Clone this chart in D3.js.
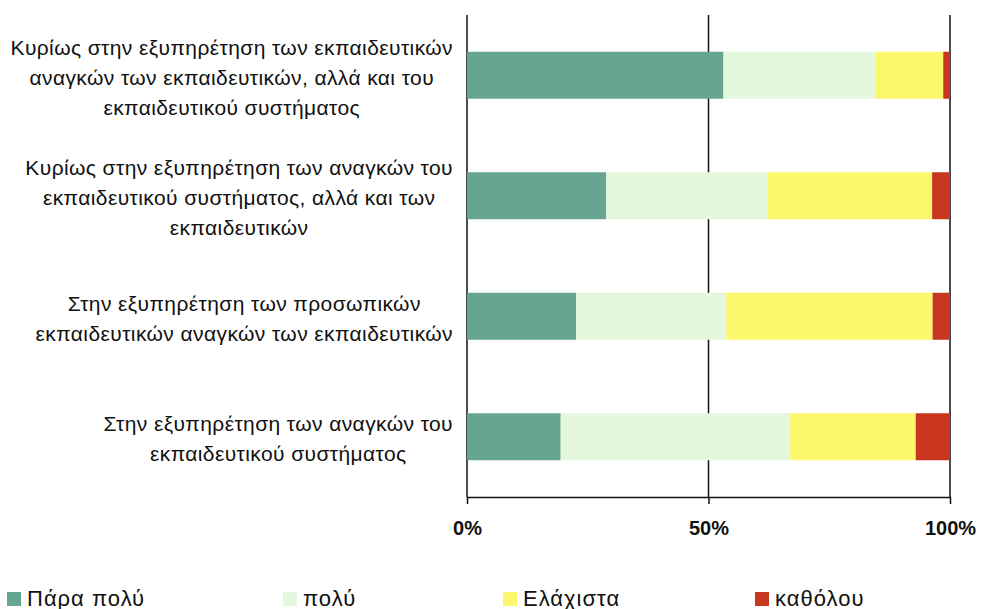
<!DOCTYPE html>
<html>
<head>
<meta charset="utf-8">
<script src="https://cdn.jsdelivr.net/npm/d3@7"></script>
<style>
  body { margin: 0; background: #fff; }
  text { font-family: "Liberation Sans", Arial, sans-serif; fill: #111; }
</style>
</head>
<body>
<div id="chart"></div>
<script>
// categories (each label split into its printed lines)
var categories = [
  ["Κυρίως στην εξυπηρέτηση των εκπαιδευτικών", "αναγκών των εκπαιδευτικών, αλλά και του", "εκπαιδευτικού συστήματος"],
  ["Κυρίως στην εξυπηρέτηση των αναγκών του", "εκπαιδευτικού συστήματος, αλλά και των", "εκπαιδευτικών"],
  ["Στην εξυπηρέτηση των προσωπικών", "εκπαιδευτικών αναγκών των εκπαιδευτικών"],
  ["Στην εξυπηρέτηση των αναγκών του", "εκπαιδευτικού συστήματος"]
];
var seriesNames = ["Πάρα πολύ", "πολύ", "Ελάχιστα", "καθόλου"];
var paraPoly = [53.1, 28.8, 22.6, 19.4];
var poly = [31.5, 33.4, 31.1, 47.5];
var elaxista = [14.0, 34.1, 42.7, 26.0];
var katholou = [1.4, 3.7, 3.6, 7.1];
var tickValues = [0, 50, 100];

var colors = ["#66a690", "#e3f8dc", "#fcf76c", "#c8361f"];

var W = 981, H = 609;
var svg = d3.select("#chart").append("svg")
  .attr("width", W)
  .attr("height", H);

// build rows for the stack
var keys = seriesNames;
var rows = categories.map(function(c, i) {
  var r = { cat: i };
  r[keys[0]] = paraPoly[i];
  r[keys[1]] = poly[i];
  r[keys[2]] = elaxista[i];
  r[keys[3]] = katholou[i];
  return r;
});
var stacked = d3.stack().keys(keys)(rows);

var x = d3.scaleLinear().domain([0, 100]).range([467, 950]);
var y = d3.scaleBand().domain(d3.range(categories.length)).range([15, 497])
  .paddingInner(0.61).paddingOuter(0.305);

// vertical gridlines
svg.append("g").selectAll("line")
  .data(tickValues)
  .enter().append("line")
  .attr("x1", function(d) { return x(d); })
  .attr("x2", function(d) { return x(d); })
  .attr("y1", 15)
  .attr("y2", 497)
  .attr("stroke", "#111")
  .attr("stroke-width", 1.5);

// bars
svg.append("g").selectAll("g")
  .data(stacked)
  .enter().append("g")
  .attr("fill", function(d, i) { return colors[i]; })
  .selectAll("rect")
  .data(function(d) { return d; })
  .enter().append("rect")
  .attr("x", function(d) { return x(d[0]); })
  .attr("width", function(d) { return x(d[1]) - x(d[0]); })
  .attr("y", function(d) { return y(d.data.cat); })
  .attr("height", y.bandwidth());

// x axis
var xAxis = svg.append("g")
  .attr("transform", "translate(0,497)")
  .call(d3.axisBottom(x).tickValues(tickValues).tickSize(7).tickSizeOuter(0)
    .tickFormat(function(d) { return d + "%"; }));
xAxis.select(".domain").attr("stroke", "#111").attr("stroke-width", 1.5);
xAxis.selectAll(".tick line").attr("stroke", "#111").attr("stroke-width", 1.5);
xAxis.selectAll(".tick text")
  .attr("y", 24)
  .style("font-family", "'Liberation Sans', Arial, sans-serif")
  .style("font-size", "20px")
  .style("font-weight", "bold")
  .attr("fill", "#111");

// category labels: block right-aligned, lines centered inside it
var lineH = 30;
var labelRight = 453;
var labels = svg.append("g").selectAll("g")
  .data(categories)
  .enter().append("g");

labels.each(function(lines, i) {
  var g = d3.select(this);
  var cy = y(i) + y.bandwidth() / 2 + 2;
  var t = g.selectAll("text")
    .data(lines)
    .enter().append("text")
    .attr("font-size", 21)
    .attr("letter-spacing", 0.4)
    .attr("text-anchor", "middle")
    .attr("dominant-baseline", "central")
    .attr("y", function(d, j) { return cy + (j - (lines.length - 1) / 2) * lineH; })
    .text(function(d) { return d; });
  var maxW = 0;
  t.each(function() { maxW = Math.max(maxW, this.getComputedTextLength()); });
  t.attr("x", labelRight - maxW / 2);
});

// legend
var legendX = [7, 283, 503, 755];
var legend = svg.append("g").selectAll("g")
  .data(seriesNames)
  .enter().append("g")
  .attr("transform", function(d, i) { return "translate(" + legendX[i] + ",592)"; });
legend.append("rect")
  .attr("width", 14)
  .attr("height", 14)
  .attr("fill", function(d, i) { return colors[i]; });
legend.append("text")
  .attr("x", 20)
  .attr("y", 6)
  .attr("dominant-baseline", "central")
  .attr("font-size", 22)
  .attr("letter-spacing", 1)
  .text(function(d) { return d; });
</script>
</body>
</html>
